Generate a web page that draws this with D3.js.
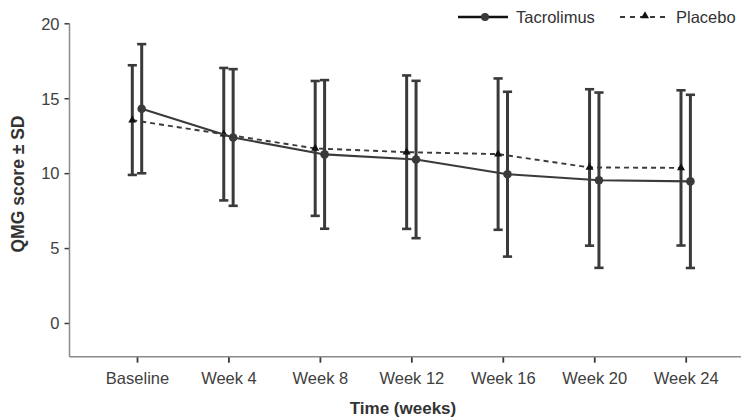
<!DOCTYPE html>
<html><head><meta charset="utf-8">
<script src="https://cdn.jsdelivr.net/npm/d3@7"></script>
<style>body{margin:0;background:#fff}svg{display:block}text{font-family:"Liberation Sans",Arial,sans-serif}</style>
</head><body><svg id="c" width="741" height="420"></svg>
<script>
const categories = ["Baseline","Week 4","Week 8","Week 12","Week 16","Week 20","Week 24"];
const tacrolimusMean = [14.3, 12.38, 11.25, 10.91, 9.93, 9.53, 9.45];
const tacrolimusSD   = [4.31, 4.56, 4.96, 5.25, 5.5, 5.85, 5.78];
const placeboMean    = [13.54, 12.6, 11.65, 11.4, 11.27, 10.38, 10.35];
const placeboSD      = [3.66, 4.42, 4.5, 5.12, 5.05, 5.22, 5.18];
const yTicks = [0, 5, 10, 15, 20];
const seriesNames = ["Tacrolimus", "Placebo"];

const svg = d3.select("#c");
const col = "#3a3a3a";
const x = d3.scalePoint().domain(categories).range([137, 685.7]);
const y = d3.scaleLinear().domain([-2.25, 20]).range([356.7, 23.3]);
const xL = 69.5, xR = 741, yB = 356.7;

// axes
const ya = svg.append("g").attr("transform", `translate(${xL},0)`)
  .call(d3.axisLeft(y).tickValues(yTicks).tickSize(5).tickPadding(5));
ya.select(".domain").remove();
ya.selectAll(".tick line").attr("stroke", col).attr("stroke-width", 1.5);
ya.selectAll(".tick text").attr("fill", "#404040").style("font-size", "16.5px").attr("dy","0.35em");
svg.append("line").attr("x1", xL).attr("x2", xL).attr("y1", y(20)).attr("y2", yB)
  .attr("stroke", "#8a8a8a").attr("stroke-width", 1.5);

const xa = svg.append("g").attr("transform", `translate(0,${yB})`)
  .call(d3.axisBottom(x).tickSize(6).tickPadding(10));
xa.select(".domain").remove();
xa.selectAll(".tick line").attr("stroke", col).attr("stroke-width", 1.8);
xa.selectAll(".tick text").attr("fill", "#404040").style("font-size", "16.5px");
svg.append("line").attr("x1", xL).attr("x2", xR).attr("y1", yB).attr("y2", yB)
  .attr("stroke", "#8a8a8a").attr("stroke-width", 1.5);

// titles
svg.append("text").attr("x", 403).attr("y", 414).attr("text-anchor", "middle")
  .style("font-size", "17px").style("font-weight", "bold").attr("fill", "#333").text("Time (weeks)");
svg.append("text").attr("transform", `translate(24,${(y(20)+yB)/2 - 6}) rotate(-90)`).attr("text-anchor", "middle")
  .style("font-size", "17.5px").style("font-weight", "bold").attr("fill", "#333").text("QMG score ± SD");

const off = 4.7, cap = 4.6;
function drawSeries(means, sds, dx, dashed, marker) {
  const g = svg.append("g");
  const pts = categories.map((c, i) => ({x: x(c) + dx, m: means[i], s: sds[i]}));
  // error bars
  pts.forEach(p => {
    g.append("line").attr("x1", p.x).attr("x2", p.x).attr("y1", y(p.m + p.s)).attr("y2", y(p.m - p.s))
      .attr("stroke", col).attr("stroke-width", 3);
    [p.m + p.s, p.m - p.s].forEach(v => g.append("line").attr("x1", p.x - cap).attr("x2", p.x + cap)
      .attr("y1", y(v)).attr("y2", y(v)).attr("stroke", col).attr("stroke-width", 2.6));
  });
  const line = d3.line().x(p => p.x).y(p => y(p.m));
  g.append("path").datum(pts).attr("d", line).attr("fill", "none").attr("stroke", col)
    .attr("stroke-width", dashed ? 1.9 : 2.1).attr("stroke-dasharray", dashed ? "5,4" : null);
  if (marker === "circle") {
    g.selectAll("circle").data(pts).join("circle").attr("cx", p => p.x).attr("cy", p => y(p.m)).attr("r", 4.3).attr("fill", col);
  } else {
    g.selectAll("path.tri").data(pts).join("path").attr("class", "tri")
      .attr("transform", p => `translate(${p.x},${y(p.m)})`)
      .attr("d", d3.symbol(d3.symbolTriangle, 28)).attr("fill", "#111");
  }
}
drawSeries(placeboMean, placeboSD, -off, true, "tri");
drawSeries(tacrolimusMean, tacrolimusSD, off, false, "circle");

// legend
const lg = svg.append("g");
const ly = 17;
lg.append("line").attr("x1", 458).attr("x2", 508).attr("y1", ly).attr("y2", ly).attr("stroke", "#111").attr("stroke-width", 2.6);
lg.append("circle").attr("cx", 485).attr("cy", ly).attr("r", 4).attr("fill", col);
lg.append("text").attr("x", 516).attr("y", ly).attr("dy", "0.35em").style("font-size", "16.5px").attr("fill", "#333").text(seriesNames[0]);
lg.append("line").attr("x1", 620).attr("x2", 668).attr("y1", ly).attr("y2", ly).attr("stroke", col).attr("stroke-width", 1.9).attr("stroke-dasharray", "5,5");
lg.append("path").attr("transform", `translate(645,${ly - 1})`).attr("d", d3.symbol(d3.symbolTriangle, 28)).attr("fill", "#111");
lg.append("text").attr("x", 676).attr("y", ly).attr("dy", "0.35em").style("font-size", "16.5px").attr("fill", "#333").text(seriesNames[1]);
</script></body></html>
